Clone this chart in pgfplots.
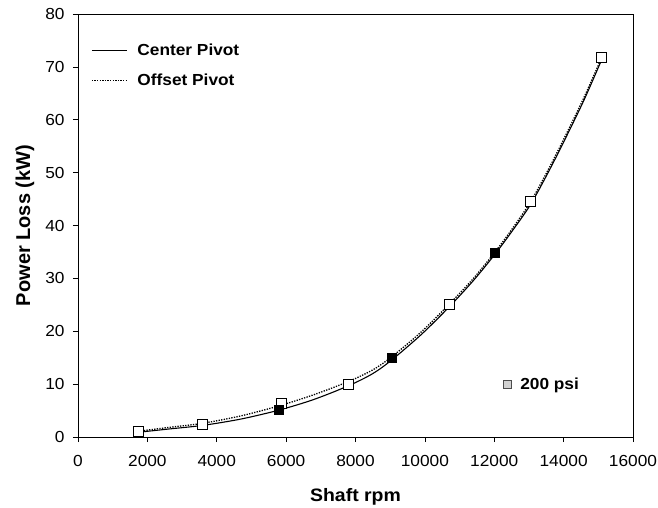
\documentclass[border=0pt]{standalone}
\usepackage{pgfplots}
\pgfplotsset{compat=1.18}
\usepackage{fontspec}
\setmainfont[FakeStretch=1.08]{Liberation Sans}
\newfontfamily\ylabfont{Liberation Sans}

\pgfplotstableread{
x y
1750 1.0
3600 2.4
5850 6.3
7800 10.0
10700 25.0
13050 44.5
15100 71.8
}\openpts
\pgfplotstableread{
x y
5800 5.2
9050 15.0
12000 34.8
}\filledpts
\pgfplotstableread{
x y
1750 0.9
2600 1.5
3600 2.2
4700 3.4
5800 5.1
6800 7.1
7800 9.7
8500 12.0
9050 14.6
9900 19.4
10700 24.6
11400 29.6
12000 34.4
12500 38.8
13050 44.0
13600 50.6
14100 57.1
14600 63.9
15100 71.4
}\center
\pgfplotstableread{
x y
1750 1.1
2600 1.8
3600 2.6
4700 4.0
5800 5.9
6800 8.0
7800 10.5
8500 12.7
9050 15.2
9900 19.9
10700 25.1
11400 30.0
12000 34.8
12500 39.2
13050 44.5
13600 51.1
14100 57.6
14600 64.4
15100 71.8
}\offset

\begin{document}
\begin{tikzpicture}
\useasboundingbox (-78bp,-71bp) rectangle (580bp,437bp);
\begin{axis}[
  at={(0,0)}, anchor=south west,
  scale only axis, width=555bp, height=423bp,
  xmin=0, xmax=16000, ymin=0, ymax=80,
  xtick={0,2000,...,16000}, ytick={0,10,...,80},
  tick align=outside, tick pos=left,
  major tick length=5bp,
  axis line style={line width=0.8bp},
  tick style={black, line width=0.6bp},
  scaled x ticks=false,
  /pgf/number format/assume math mode=true,
  /pgf/number format/set thousands separator={},
  ticklabel style={font=\fontsize{16bp}{19bp}\selectfont},
  xticklabel style={yshift=-10bp},
  yticklabel style={xshift=-5bp},
  xlabel={Shaft rpm}, ylabel={Power Loss (kW)},
  xlabel style={font=\bfseries\fontsize{18bp}{21bp}\selectfont, at={(axis description cs:0.5,-0.142)}, anchor=center},
  ylabel style={font=\ylabfont\bfseries\fontsize{20bp}{24bp}\selectfont, at={(axis description cs:-0.0955,0.5)}, anchor=center},
  legend style={at={(rel axis cs:0,1)}, anchor=north west, xshift=10bp, yshift=-26bp,
    draw=none, fill=none, font=\bfseries\fontsize{16bp}{19bp}\selectfont,
    row sep=13bp, cells={anchor=west},
    /tikz/every odd column/.append style={column sep=8bp}},
  legend image code/.code={\draw[#1] (0bp,0bp) -- (35bp,0bp);},
]
\addplot[only marks, mark=square*, mark size=5bp, mark options={fill=white, draw=black, line width=0.8bp}, forget plot] table {\openpts};
\addplot[only marks, mark=square*, mark size=4.5bp, mark options={fill=black, draw=black}, forget plot] table {\filledpts};
\addplot[black, line width=1.1bp, smooth, no marks] table {\center};
\addlegendentry{Center Pivot}
\addplot[black, line width=1.3bp, dash pattern=on 1.3bp off 1.3bp, smooth, no marks] table {\offset};
\addlegendentry{Offset Pivot}
\end{axis}
\begin{axis}[
  at={(0,0)}, anchor=south west,
  scale only axis, width=555bp, height=423bp,
  hide axis, xmin=0, xmax=1, ymin=0, ymax=1,
  legend style={at={(axis cs:0.775,0.125)}, anchor=west, xshift=-8bp,
    draw=none, fill=none, font=\bfseries\fontsize{16bp}{19bp}\selectfont,
    /tikz/every odd column/.append style={column sep=7bp}},
]
\addlegendimage{only marks, mark=square*, mark size=4bp, mark options={fill=gray!35, draw=gray!60!black, line width=0.6bp}}
\addlegendentry{200 psi}
\end{axis}
\end{tikzpicture}
\end{document}
